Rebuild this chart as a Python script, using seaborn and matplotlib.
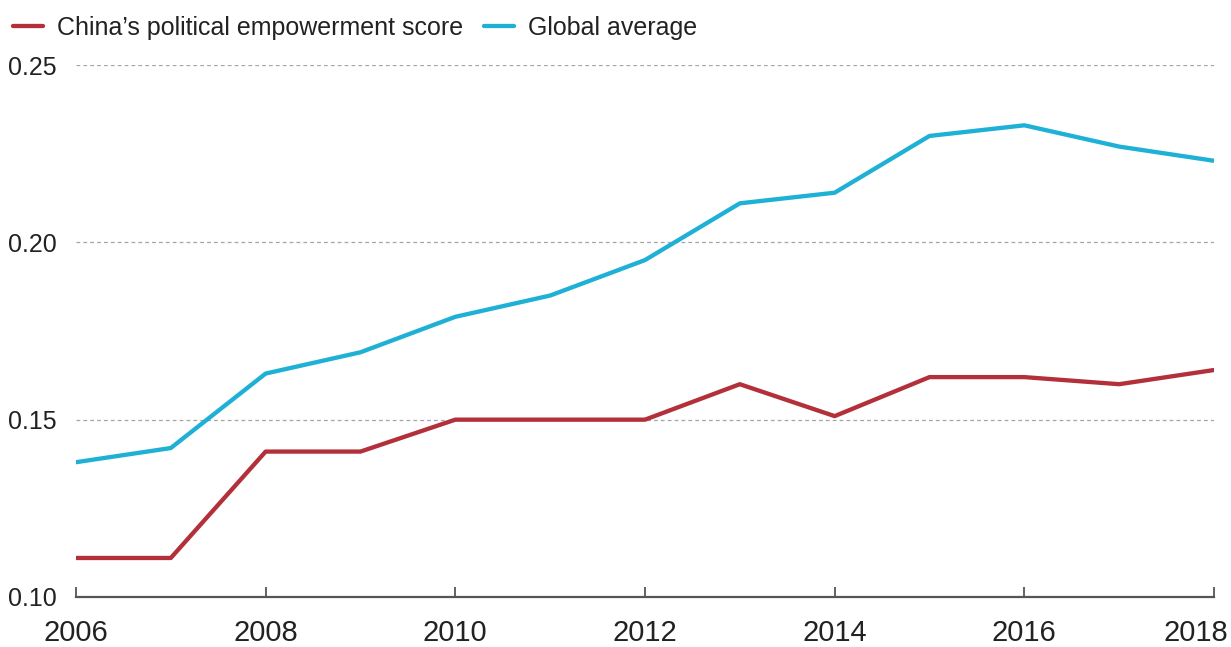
import pandas as pd
import seaborn as sns
import matplotlib.pyplot as plt
from matplotlib.transforms import ScaledTranslation

years = list(range(2006, 2019))
china = [0.111, 0.111, 0.141, 0.141, 0.150, 0.150, 0.150, 0.160, 0.151, 0.162, 0.162, 0.160, 0.164]
global_avg = [0.138, 0.142, 0.163, 0.169, 0.179, 0.185, 0.195, 0.211, 0.214, 0.230, 0.233, 0.227, 0.223]
series_names = ["China\u2019s political empowerment score", "Global average"]
colors = ["#b3303b", "#1eb1d5"]

df = pd.DataFrame({
    "year": years * 2,
    "score": china + global_avg,
    "series": [series_names[0]] * len(years) + [series_names[1]] * len(years),
})

sns.set_style("white")
plt.rcParams["font.family"] = ["Liberation Sans", "DejaVu Sans"]

fig = plt.figure(figsize=(12.31, 6.47), dpi=100)
ax = fig.add_axes([0.0617, 0.0773, 0.9245, 0.8222])

sns.lineplot(data=df, x="year", y="score", hue="series", palette=colors,
             linewidth=3.1, ax=ax, legend=True)

ax.set_xlim(2006, 2018)
ax.set_ylim(0.10, 0.25)
ax.set_xticks(range(2006, 2019, 2))
ax.set_yticks([0.10, 0.15, 0.20, 0.25])
ax.set_yticklabels(["0.10", "0.15", "0.20", "0.25"])
ax.set_xlabel("")
ax.set_ylabel("")

for y in [0.15, 0.20, 0.25]:
    ax.axhline(y, color="#a5a5a5", linestyle=(0, (3, 2.5)), linewidth=0.9, zorder=0)

for s in ["top", "right", "left"]:
    ax.spines[s].set_visible(False)
ax.spines["bottom"].set_color("#555555")
ax.spines["bottom"].set_linewidth(1.6)

ax.tick_params(axis="x", direction="in", length=7, width=1.3, color="#555555",
               labelsize=21, pad=16, labelcolor="#222222", bottom=True)
ax.tick_params(axis="y", length=0, labelsize=18, pad=14, labelcolor="#222222")

# last year label sits flush with the right edge
last = ax.get_xticklabels()[-1]
last.set_transform(last.get_transform() + ScaledTranslation(-0.18, 0, fig.dpi_scale_trans))

handles, labels = ax.get_legend_handles_labels()
ax.get_legend().remove()
fig.legend(handles, labels, loc="center left", bbox_to_anchor=(13 / 1231, 1 - 28 / 647), ncol=2,
           frameon=False, fontsize=18, handlelength=1.2, handletextpad=0.55,
           columnspacing=0.85, borderpad=0, borderaxespad=0, labelcolor="#222222")

fig.savefig("out.png", dpi=100)
